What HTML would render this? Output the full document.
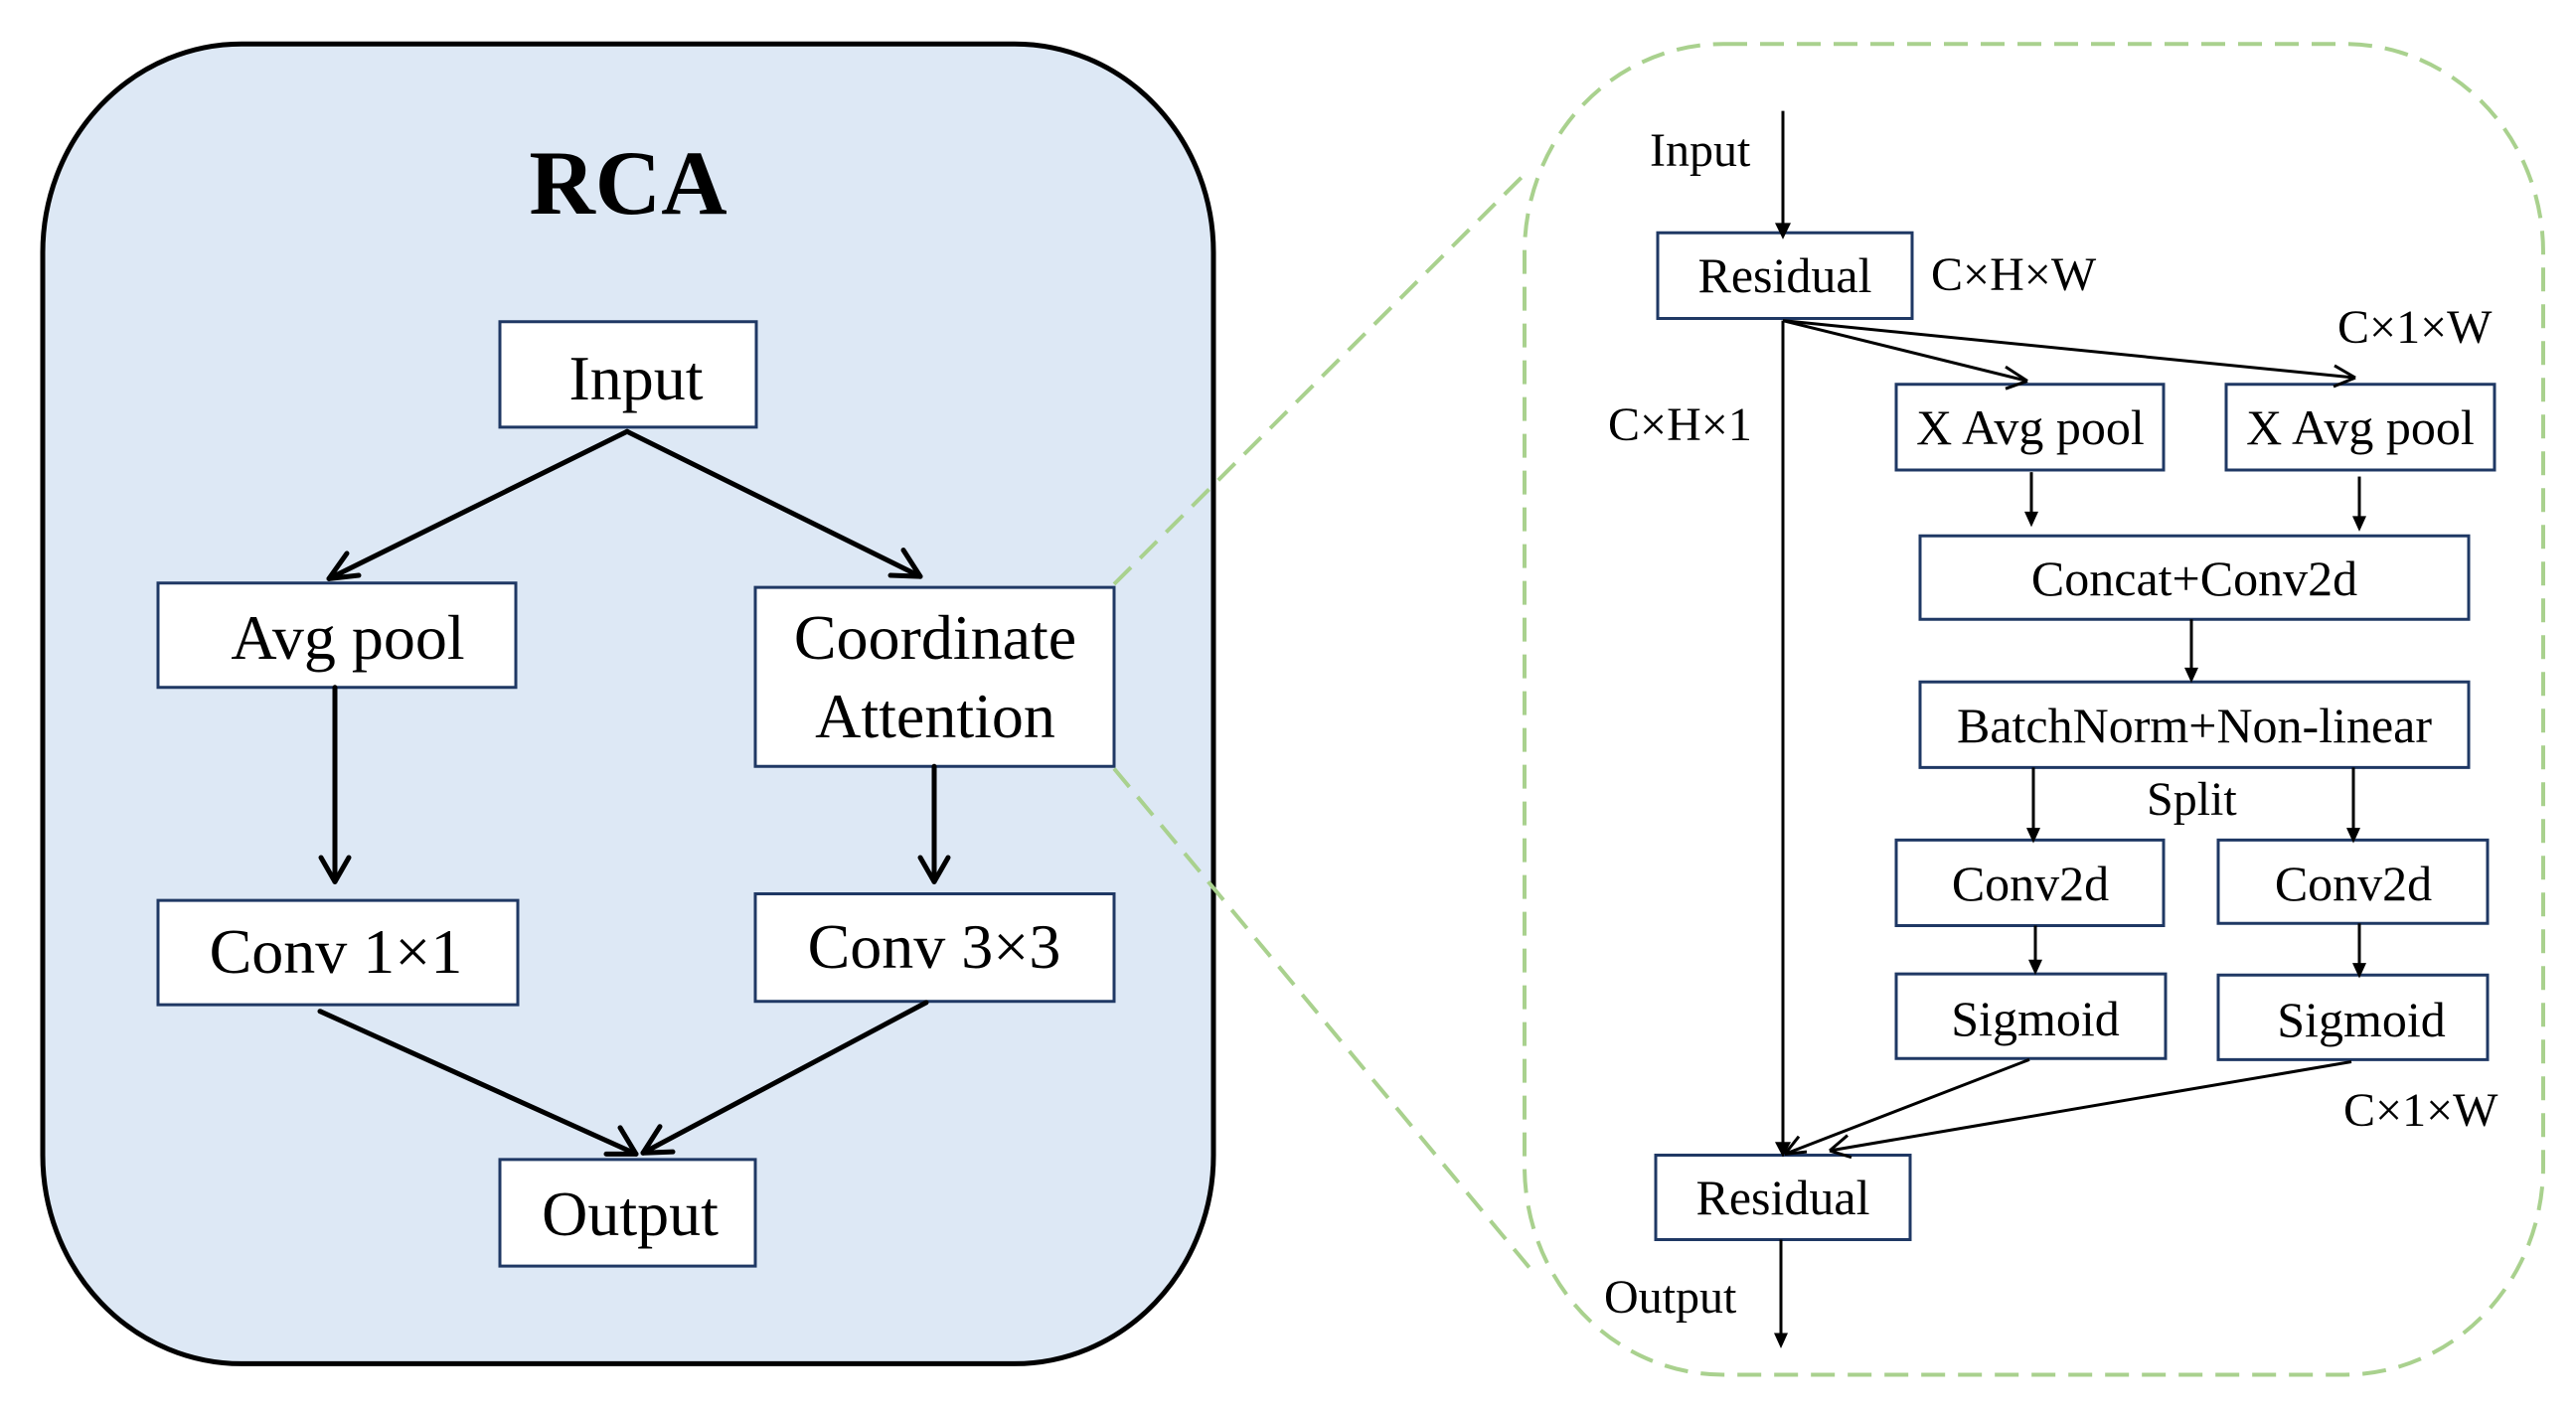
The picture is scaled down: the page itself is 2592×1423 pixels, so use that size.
<!DOCTYPE html>
<html><head><meta charset="utf-8"><style>
html,body{margin:0;padding:0;background:#fff}
svg{display:block}
text{font-family:"Liberation Serif",serif;fill:#000}
.s *{vector-effect:non-scaling-stroke}
</style></head><body>
<svg width="2592" height="1423" viewBox="0 0 2592 1423" xmlns="http://www.w3.org/2000/svg">
<g class="s" transform="scale(1,1.105)">
<rect x="43" y="40" width="1178" height="1202" rx="200" ry="190" fill="#dde8f5" stroke="#000" stroke-width="5"/>
<g fill="#fff" stroke="#1f3864" stroke-width="3">
<rect x="503" y="293" width="258" height="96"/>
<rect x="159" y="531" width="360" height="95"/>
<rect x="760" y="535" width="361" height="163"/>
<rect x="159" y="820" width="362" height="95"/>
<rect x="760" y="814" width="361" height="98"/>
<rect x="503" y="1056" width="257" height="97"/>
</g>
<g stroke="#000" stroke-width="5" fill="none" stroke-linecap="round">
<line x1="631" y1="393" x2="331" y2="527"/>
<path d="M331 527 l30 -3 M331 527 l18 -23"/>
<line x1="631" y1="393" x2="926" y2="525"/>
<path d="M926 525 l-30 -1 M926 525 l-17 -24"/>
<line x1="337" y1="626" x2="337" y2="803"/>
<path d="M337 803 l-14 -22 M337 803 l14 -22"/>
<line x1="940" y1="698" x2="940" y2="803"/>
<path d="M940 803 l-14 -22 M940 803 l14 -22"/>
<line x1="322" y1="921" x2="640" y2="1051"/>
<path d="M640 1051 l-30 0 M640 1051 l-16 -24"/>
<line x1="932" y1="913" x2="647" y2="1050"/>
<path d="M647 1050 l30 -1 M647 1050 l17 -24"/>
</g>
<g stroke="#a9d18e" stroke-width="4" fill="none" stroke-dasharray="24 13">
<line x1="1121" y1="532" x2="1536" y2="157"/>
<line x1="1121" y1="700" x2="1544" y2="1160"/>
<rect x="1534" y="40" width="1025" height="1212" rx="200" ry="190"/>
</g>
<g fill="#fff" stroke="#1f3864" stroke-width="3">
<rect x="1668" y="212" width="256" height="78"/>
<rect x="1908" y="350" width="269" height="78"/>
<rect x="2240" y="350" width="270" height="78"/>
<rect x="1932" y="488" width="552" height="76"/>
<rect x="1932" y="621" width="552" height="78"/>
<rect x="1908" y="765" width="269" height="78"/>
<rect x="2232" y="765" width="271" height="76"/>
<rect x="1908" y="887" width="271" height="77"/>
<rect x="2232" y="888" width="271" height="77"/>
<rect x="1666" y="1052" width="256" height="77"/>
</g>
<g stroke="#000" stroke-width="3" fill="none">
<line x1="1794" y1="101" x2="1794" y2="205"/>
<line x1="1794" y1="292" x2="1794" y2="1046"/>
<line x1="1794" y1="292" x2="2040" y2="347"/>
<path d="M2040 347 l-22 -13 M2040 347 l-22 7"/>
<line x1="1794" y1="292" x2="2370" y2="344"/>
<path d="M2370 344 l-21 -11 M2370 344 l-22 8"/>
<line x1="2044" y1="430" x2="2044" y2="468"/>
<line x1="2374" y1="434" x2="2374" y2="472"/>
<line x1="2205" y1="564" x2="2205" y2="612"/>
<line x1="2046" y1="699" x2="2046" y2="758"/>
<line x1="2368" y1="699" x2="2368" y2="758"/>
<line x1="2048" y1="843" x2="2048" y2="878"/>
<line x1="2374" y1="841" x2="2374" y2="881"/>
<line x1="2042" y1="965" x2="1796" y2="1051"/>
<path d="M1796 1051 l22 -2 M1796 1051 l14 -16"/>
<line x1="2366" y1="967" x2="1841" y2="1048"/>
<path d="M1841 1048 l22 6 M1841 1048 l18 -14"/>
<line x1="1792" y1="1129" x2="1792" y2="1218"/>
</g>
<g fill="#000">
<path d="M1786 203 L1802 203 L1794 218 Z"/>
<path d="M1786 1040 L1802 1040 L1794 1054 Z"/>
<path d="M2037 466 L2051 466 L2044 480 Z"/>
<path d="M2367 470 L2381 470 L2374 484 Z"/>
<path d="M2198 608 L2212 608 L2205 622 Z"/>
<path d="M2039 754 L2053 754 L2046 768 Z"/>
<path d="M2361 754 L2375 754 L2368 768 Z"/>
<path d="M2041 874 L2055 874 L2048 888 Z"/>
<path d="M2367 877 L2381 877 L2374 891 Z"/>
<path d="M1785 1214 L1799 1214 L1792 1228 Z"/>
</g>
</g>
<text x="632" y="215" font-size="92" font-weight="bold" text-anchor="middle">RCA</text>
<g font-size="64" text-anchor="middle">
<text x="640" y="402">Input</text>
<text x="350" y="663">Avg pool</text>
<text x="941" y="663">Coordinate</text>
<text x="941" y="742">Attention</text>
<text x="338" y="979">Conv 1×1</text>
<text x="940" y="974">Conv 3×3</text>
<text x="634" y="1243">Output</text>
</g>
<g font-size="50" text-anchor="middle">
<text x="1796" y="294">Residual</text>
<text x="2043" y="447">X Avg pool</text>
<text x="2375" y="447">X Avg pool</text>
<text x="2208" y="599">Concat+Conv2d</text>
<text x="2208" y="747">BatchNorm+Non-linear</text>
<text x="2043" y="906">Conv2d</text>
<text x="2368" y="906">Conv2d</text>
<text x="2048" y="1042">Sigmoid</text>
<text x="2376" y="1043">Sigmoid</text>
<text x="1794" y="1222">Residual</text>
</g>
<g font-size="48">
<text x="1660" y="167">Input</text>
<text x="1943" y="292">C×H×W</text>
<text x="2352" y="345">C×1×W</text>
<text x="1618" y="443">C×H×1</text>
<text x="2160" y="820">Split</text>
<text x="2358" y="1133">C×1×W</text>
<text x="1614" y="1321">Output</text>
</g>
</svg>
</body></html>
